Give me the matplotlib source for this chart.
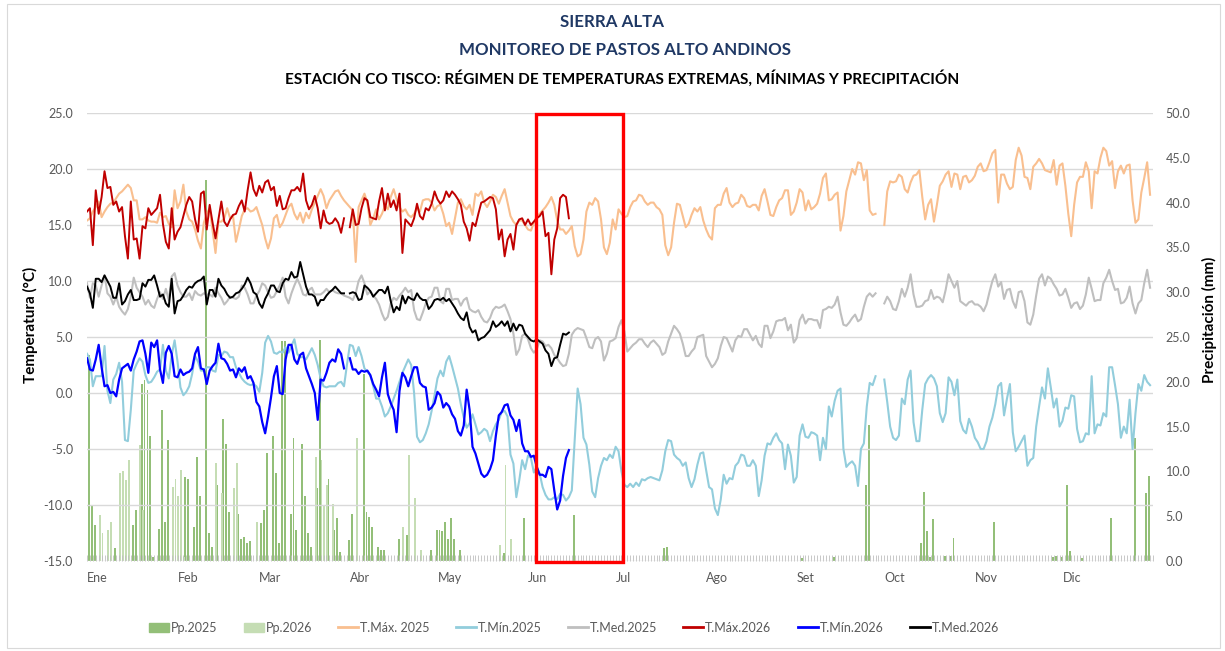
import numpy as np
import matplotlib
matplotlib.use('Agg')
import matplotlib.pyplot as plt
from matplotlib.patches import Rectangle, Patch
from matplotlib.lines import Line2D

plt.rcParams['font.family'] = ['Lato', 'DejaVu Sans']

nan = np.nan

# Meses (inicio de cada mes en días del año)
meses = ['Ene', 'Feb', 'Mar', 'Abr', 'May', 'Jun', 'Jul', 'Ago', 'Set', 'Oct', 'Nov', 'Dic']
inicio_mes = [0, 31, 59, 90, 120, 151, 181, 212, 243, 273, 304, 334]

# T. máxima 2025 (diaria, desde el 1 de enero)
tmax25 = [
    15.4, 15.6, 16.2, 16.6, 17.1, 15.7, 16.2, 16.6, 16.9, 17.0,
    17.4, 17.8, 18.0, 18.3, 18.6, 18.3, 17.2, 17.2, 15.5, 15.5,
    15.7, 15.4, 15.3, 15.3, 15.2, 16.1, 15.7, 15.8, 15.1, 14.8,
    18.1, 16.5, 17.1, 18.6, 16.2, 15.5, 15.3, 14.6, 13.6, 12.9,
    15.2, 16.0, 16.5, 14.5, 12.5, 15.3, 15.3, 15.6, 16.5, 15.6,
    15.8, 13.5, 14.6, 15.8, 16.4, 16.5, 16.2, 16.3, 16.6, 15.8,
    15.0, 13.8, 12.9, 13.8, 15.6, 15.9, 14.8, 15.2, 15.9, 16.6,
    16.9, 16.0, 15.5, 16.1, 15.2, 16.1, 15.6, 16.4, 17.0, 17.6,
    18.2, 17.6, 16.5, 17.2, 17.6, 18.0, 18.1, 17.6, 17.2, 16.9,
    16.6, 16.3, 11.7, 16.6, 17.2, 17.8, 17.0, 15.0, 15.6, 16.4,
    15.5, 16.0, 16.7, 16.4, 17.5, 18.2, 17.3, 16.6, 16.2, 16.4,
    15.9, 15.7, 16.0, 16.5, 16.2, 17.2, 17.3, 17.3, 17.0, 16.3,
    16.7, 16.8, 16.0, 14.9, 15.2, 14.2, 15.6, 17.0, 17.3, 16.7,
    16.4, 16.8, 15.9, 17.8, 17.6, 18.0, 17.0, 16.6, 17.1, 17.7,
    17.5, 16.9, 17.6, 18.2, 17.0, 15.8, 15.3, 15.0, 15.4, 15.4,
    15.0, 14.6, 14.5, 15.2, 15.8, 16.0, 16.3, 16.6, 17.0, 17.5,
    16.8, 15.4, 14.6, 14.6, 14.2, 14.5, 14.9, 13.1, 12.2, 12.4,
    13.7, 16.2, 17.0, 16.8, 17.4, 17.1, 15.5, 13.0, 12.4, 13.4,
    15.5, 14.6, 16.4, 16.0, 15.7, 15.8, 16.6, 17.1, 17.2, 17.7,
    17.6, 17.1, 16.8, 17.0, 17.0, 16.6, 16.4, 15.9, 13.2, 12.3,
    13.0, 15.2, 16.9, 16.8, 15.8, 14.8, 15.1, 15.9, 16.5, 16.2,
    16.6, 15.4, 14.6, 14.0, 13.7, 16.5, 16.8, 16.8, 17.8, 18.3,
    17.0, 16.6, 16.9, 17.0, 17.7, 17.4, 16.7, 16.6, 16.8, 16.8,
    16.3, 17.6, 18.2, 17.1, 15.9, 15.8, 16.6, 17.2, 17.4, 18.1,
    18.1, 15.9, 16.2, 17.0, 18.2, 17.9, 16.3, 17.2, 16.4, 16.6,
    16.9, 17.8, 19.2, 19.6, 17.2, 17.3, 17.7, 17.9, 14.5, 15.8,
    18.0, 19.0, 20.0, 19.5, 20.6, 20.5, 19.0, 19.9, 16.3, 15.9,
    16.0, nan, nan, 15.0, 18.0, 18.9, 18.8, 18.9, 19.5, 19.3,
    18.2, 17.9, 18.8, 19.4, 19.5, 19.9, 17.5, 15.5, 16.8, 17.3,
    15.3, 16.8, 18.5, 18.9, 19.5, 19.8, 18.4, 19.6, 19.5, 18.2,
    19.3, 19.4, 18.8, 19.0, 19.4, 20.2, 20.5, 19.8, 19.9, 20.6,
    21.4, 21.7, 17.0, 19.5, 19.5, 18.7, 18.2, 18.4, 20.8, 21.9,
    21.2, 19.3, 19.2, 18.2, 20.2, 20.5, 20.9, 20.5, 19.9, 19.8,
    19.7, 20.8, 18.6, 20.3, 20.5, 18.5, 16.0, 14.0, 16.8, 18.8,
    19.3, 19.3, 20.6, 19.8, 16.5, 19.8, 19.6, 21.0, 21.9, 21.6,
    20.3, 20.7, 18.3, 19.8, 20.3, 19.6, 20.3, 20.4, 17.2, 15.2,
    15.5, 17.9, 19.2, 20.6, 17.7,
]

# T. mínima 2025
tmin25 = [
    3.5, 3.0, 0.6, 1.5, 1.5, 1.5, 4.2, 0.2, -0.9, 1.2,
    1.7, 2.7, 1.0, -4.2, -4.3, -1.5, 2.0, 2.6, 3.1, 2.8,
    1.6, 0.9, 1.0, 1.4, 1.9, 2.1, 4.3, 2.0, 1.3, 3.4,
    4.7, 2.8, 0.5, -0.2, 0.1, 0.6, 1.7, 3.3, 2.8, 2.0,
    2.0, 2.3, 2.3, 2.0, 1.9, 3.4, 3.3, 3.7, 3.6, 3.2,
    3.2, 2.3, 1.8, 1.3, 1.0, 0.8, 0.7, 0.8, 0.6, 0.1,
    1.8, 4.5, 5.1, 4.6, 3.6, 3.5, 3.7, 3.6, 4.1, 3.6,
    4.2, 4.8, 3.5, 3.2, 3.2, 3.0, 3.5, 4.0, 3.4, 2.5,
    1.3, 0.6, 0.5, 0.6, 0.6, 0.6, 0.9, 1.0, 0.6, 2.5,
    4.3, 4.2, 3.3, 4.1, 3.3, 2.2, 1.9, 1.6, 0.6, -0.5,
    -0.5, -1.2, -2.1, -1.8, -1.2, -0.5, 0.2, 1.0, 1.8, 2.4,
    3.0, 2.5, 0.0, -3.9, -4.4, -4.2, -3.6, -2.8, -1.6, -0.2,
    1.3, 2.0, 1.5, 2.8, 3.3, 2.4, 1.4, 0.4, -1.0, -2.2,
    -3.1, -2.7, -1.9, -2.8, -3.7, -3.5, -3.2, -3.4, -4.3, -3.4,
    -2.8, -2.4, -1.7, -1.6, -2.1, -5.5, -6.3, -9.3, -7.8, -6.0,
    -6.8, -5.6, -5.8, -7.1, -6.6, -7.2, -8.4, -9.1, -9.5, -9.5,
    -9.3, -9.5, -9.0, -9.1, -9.6, -9.3, -8.7, -4.2, 0.4, -1.0,
    -4.0, -4.6, -6.4, -8.8, -9.3, -7.6, -6.5, -5.8, -6.0, -5.5,
    -5.8, -4.8, -5.2, -7.0, -8.2, -8.4, -8.1, -8.4, -8.0, -8.3,
    -7.7, -7.8, -7.6, -7.5, -7.6, -7.7, -7.8, -6.9, -5.2, -4.2,
    -4.3, -5.5, -5.8, -6.0, -6.5, -6.2, -7.6, -8.4, -7.7, -6.4,
    -5.4, -5.3, -6.9, -8.4, -8.6, -10.3, -10.9, -9.5, -7.3, -8.1,
    -7.6, -7.7, -6.5, -6.2, -5.5, -5.6, -6.5, -6.5, -6.0, -6.5,
    -9.2, -7.8, -5.6, -4.5, -4.6, -4.0, -3.6, -4.2, -4.5, -6.8,
    -4.6, -5.6, -8.0, -7.5, -3.8, -2.8, -3.9, -4.0, -3.5, -3.6,
    -3.8, -6.0, -4.0, -5.0, -1.2, -2.1, -0.7, 0.2, 0.4, -5.0,
    -6.6, -6.3, -6.1, -6.5, -8.3, -5.0, -4.5, -1.2, 0.9, 0.7,
    1.5, nan, nan, 1.2, -0.8, -3.0, -4.0, -4.2, -3.8, -0.5,
    -1.0, 1.2, 2.0, -2.6, -4.3, -4.3, -1.5, 0.8, 1.3, 1.6,
    1.3, 0.6, -1.8, -2.6, -1.8, 1.4, 1.0, -0.2, 1.2, -2.5,
    -3.3, -3.6, -2.3, -3.0, -4.0, -4.4, -5.0, -5.0, -4.3, -3.0,
    -2.2, -1.0, 0.6, 0.9, -2.0, -0.5, 0.8, -3.5, -5.2, -4.8,
    -4.3, -3.8, -6.5, -6.0, -5.8, -3.0, -1.2, 0.5, -0.5, 2.2,
    0.5, -1.3, -0.5, -3.0, -2.5, -1.3, -1.4, -0.2, -0.3, -3.2,
    -4.4, -4.3, -3.6, -3.7, 1.5, -3.6, -2.8, -2.9, -1.8, -2.1,
    2.3, 2.3, 0.7, -1.0, -4.0, -3.0, -3.6, -0.6, -5.0, -1.8,
    0.8, 0.2, 1.6, 1.0, 0.7,
]

# T. media 2025
tmed25 = [
    9.8, 8.5, 9.8, 9.6, 8.6, 9.6, 10.5, 8.9, 8.6, 7.9,
    8.6, 7.7, 7.3, 7.0, 7.5, 8.6, 10.3, 9.4, 9.0, 8.6,
    7.9, 8.3, 7.8, 7.6, 8.4, 9.0, 8.4, 9.3, 8.3, 10.4,
    10.7, 9.6, 9.0, 8.6, 8.6, 8.9, 8.3, 9.1, 8.8, 8.7,
    8.9, 8.8, 8.8, 8.6, 9.4, 8.9, 8.5, 7.9, 8.2, 8.6,
    8.5, 8.4, 8.6, 9.6, 9.4, 8.8, 8.0, 8.0, 8.7, 9.1,
    9.8, 9.6, 9.0, 8.5, 8.6, 9.1, 9.6, 10.3, 8.6, 8.0,
    8.9, 9.6, 10.2, 9.6, 8.8, 8.7, 9.2, 9.4, 8.8, 8.8,
    8.8, 9.0, 9.3, 9.0, 9.2, 9.0, 8.9, 8.9, 8.7, 8.6,
    8.5, 8.3, 8.9, 10.0, 10.5, 9.8, 8.8, 9.1, 8.7, 8.4,
    7.9, 7.1, 6.5, 6.8, 8.0, 8.5, 8.3, 8.7, 9.0, 9.4,
    9.0, 9.2, 7.4, 6.6, 6.5, 7.2, 8.0, 8.5, 8.6, 9.4,
    9.4, 8.2, 8.0, 9.3, 9.3, 8.3, 8.4, 8.4, 7.8, 8.3,
    8.5, 7.5, 7.3, 7.2, 7.4, 6.8, 6.4, 6.3, 6.7, 7.4,
    7.7, 7.6, 7.7, 7.9, 7.3, 6.6, 5.3, 3.4, 3.9, 5.1,
    5.3, 4.8, 4.0, 3.6, 3.9, 4.7, 4.6, 4.2, 4.3, 4.0,
    3.4, 3.1, 2.7, 2.4, 2.5, 3.5, 5.2, 5.6, 5.8, 5.7,
    5.6, 4.9, 4.1, 4.0, 4.8, 5.0, 4.6, 2.9, 3.5, 4.6,
    4.7, 4.9, 5.9, 6.5, 5.5, 3.7, 4.0, 4.3, 4.5, 4.8,
    4.8, 4.4, 4.1, 4.5, 4.7, 4.4, 4.1, 3.4, 3.6, 4.6,
    5.3, 6.0, 5.7, 5.3, 4.4, 3.3, 3.3, 3.7, 4.0, 5.0,
    5.1, 5.2, 3.3, 2.8, 2.3, 2.6, 3.1, 4.2, 5.0, 4.9,
    4.3, 3.7, 4.7, 5.1, 5.0, 5.7, 5.7, 5.2, 4.7, 5.1,
    4.4, 4.1, 6.0, 6.0, 4.9, 5.5, 6.4, 6.5, 6.5, 6.7,
    5.6, 6.1, 4.5, 4.9, 6.5, 7.0, 6.2, 6.6, 6.6, 6.5,
    6.5, 5.8, 7.4, 7.5, 7.7, 7.6, 7.9, 8.6, 7.2, 6.1,
    6.0, 6.3, 6.7, 7.0, 6.4, 6.6, 7.7, 8.6, 8.9, 8.6,
    8.9, nan, nan, 8.0, 8.6, 8.2, 7.5, 7.4, 8.2, 9.3,
    8.6, 9.4, 10.6, 8.8, 7.7, 7.7, 7.8, 8.2, 8.3, 9.2,
    8.4, 8.6, 8.5, 8.1, 9.2, 10.6, 10.0, 9.4, 10.0, 8.2,
    8.0, 7.8, 8.1, 8.2, 7.9, 7.9, 7.7, 7.3, 7.9, 9.0,
    10.0, 10.6, 9.5, 9.9, 8.4, 9.2, 9.3, 8.2, 7.6, 9.0,
    9.1, 8.2, 6.3, 6.1, 7.0, 8.7, 10.2, 10.6, 9.6, 10.4,
    10.2, 9.7, 9.3, 8.7, 8.8, 9.3, 8.5, 7.6, 8.0, 8.1,
    7.5, 7.8, 8.8, 10.3, 9.3, 8.2, 8.3, 8.3, 9.8, 10.3,
    11.0, 10.0, 9.2, 9.3, 8.0, 8.1, 8.5, 9.5, 8.0, 7.1,
    8.0, 8.3, 9.8, 11.0, 9.4,
]

# T. máxima 2026 (hasta el 15 de junio)
tmax26 = [
    16.2, 16.5, 13.2, 18.1, 16.0, 17.5, 19.8, 18.3, 18.4, 16.8,
    17.1, 16.2, 16.6, 14.0, 12.0, 17.1, 13.7, 13.8, 12.0, 14.9,
    14.7, 16.5, 15.9, 16.2, 16.5, 17.7, 15.1, 13.5, 12.9, 16.5,
    13.7, 14.4, 14.8, 15.8, 16.8, 17.5, 17.1, 15.5, 14.4, 17.8,
    18.0, 14.6, 16.8, 15.2, 13.8, 15.5, 17.1, 15.3, 14.9, 15.5,
    15.9, 16.0, 16.7, 17.2, 16.2, 18.1, 19.7, 18.2, 17.6, 18.5,
    17.9, 18.8, 19.0, 18.1, 18.4, 16.7, 17.6, 16.4, 16.5, 17.4,
    18.1, 18.1, 18.4, 18.0, 19.6, 17.2, 16.4, 16.8, 17.6, 16.5,
    14.7, 16.3, 15.3, 15.1, 15.2, 15.6, 15.2, 14.3, 15.6, nan,
    14.8, 16.4, 15.0, 15.1, 16.5, 17.4, 17.2, 15.7, 15.6, 15.5,
    17.1, 18.3, 16.3, 17.8, 16.6, 17.2, 16.3, 17.8, 12.5, 15.5,
    15.2, 14.9, 15.6, 16.9, 15.8, 15.5, 16.5, 16.3, 16.9, 18.0,
    17.3, 16.9, 17.2, 18.0, 17.5, 18.0, 17.7, 17.3, 16.8, 15.3,
    14.7, 13.6, 15.2, 14.9, 16.0, 17.0, 17.1, 17.3, 17.5, 17.4,
    16.4, 13.7, 14.6, 12.2, 13.7, 14.2, 12.8, 15.0, 15.5, 15.6,
    15.0, 15.5, 15.0, 15.3, 15.6, 15.8, 16.2, 14.0, 14.3, 10.6,
    13.7, 14.7, 17.4, 17.7, 17.5, 15.6,
]

# T. mínima 2026
tmin26 = [
    3.1, 2.1, 2.0, 3.0, 4.3, 2.3, 0.6, 0.7, 0.0, 0.1,
    -0.3, 1.2, 2.2, 2.4, 2.6, 2.0, 3.0, 3.7, 4.6, 4.7,
    3.5, 1.8, 4.5, 4.1, 4.7, 2.1, 0.9, 3.6, 4.2, 3.5,
    1.5, 1.4, 2.1, 1.6, 1.8, 1.9, 2.2, 3.5, 4.1, 2.2,
    2.1, 0.8, 2.0, 2.4, 2.7, 4.4, 3.1, 3.0, 2.6, 2.0,
    2.1, 1.4, 2.2, 1.9, 2.3, 1.3, 1.5, 0.9, -0.8, -1.2,
    -2.6, -3.6, -2.1, -0.4, 1.5, 2.4, 0.0, -0.1, 3.0, 4.3,
    4.3, 3.0, 2.6, 3.4, 3.6, 2.2, 1.5, 0.8, 0.0, -2.4,
    1.2, 1.1, 1.8, 2.7, 3.0, 2.8, 3.9, 3.5, 2.2, nan,
    3.1, 2.1, 2.1, 1.7, 2.0, 1.9, 2.0, 1.6, 0.8, 0.3,
    -0.3, 1.4, 2.7, -0.1, -0.9, -1.5, -3.5, 0.2, 1.8, 1.4,
    0.6, 1.5, 2.3, 2.3, 0.9, 0.6, 0.5, -1.5, -1.3, -0.9,
    0.1, -0.2, -1.3, -0.9, -1.2, -1.9, -2.3, -3.4, -3.8, -2.9,
    0.3, -1.5, -4.8, -5.4, -6.3, -7.2, -7.5, -7.3, -6.8, -6.0,
    -3.8, -2.0, -1.7, -1.1, -1.0, -2.0, -2.4, -3.4, -2.4, -4.5,
    -5.2, -5.2, -5.7, -5.6, -6.6, -7.3, -7.3, -7.5, -6.6, -6.8,
    -8.7, -10.4, -9.6, -7.4, -5.8, -5.1,
]

# T. media 2026
tmed26 = [
    9.5, 8.9, 7.6, 10.2, 10.2, 9.9, 10.5, 10.0, 9.5, 8.5,
    8.5, 9.8, 7.9, 8.2, 8.8, 9.2, 8.3, 8.3, 8.4, 9.8,
    9.5, 10.1, 10.1, 10.5, 9.6, 8.6, 8.8, 8.0, 7.7, 10.2,
    7.1, 8.2, 8.3, 8.7, 9.2, 9.5, 9.4, 9.8, 10.0, 10.1,
    10.4, 7.9, 9.2, 9.2, 8.6, 10.2, 9.6, 9.3, 8.8, 8.5,
    8.6, 8.9, 9.0, 9.3, 9.7, 10.3, 9.8, 9.0, 8.8, 8.0,
    7.6, 8.4, 8.9, 9.6, 9.6, 9.1, 9.0, 9.8, 10.2, 10.1,
    10.8, 10.3, 10.4, 11.7, 10.6, 9.5, 8.8, 8.8, 8.6, 7.8,
    8.3, 8.3, 8.7, 9.0, 9.2, 9.5, 9.2, 8.9, 8.9, nan,
    8.9, 9.0, 8.9, 8.3, 8.4, 9.6, 9.4, 9.1, 8.6, 8.9,
    9.2, 9.2, 8.9, 9.5, 8.2, 7.2, 7.7, 7.4, 8.7, 8.0,
    8.6, 8.4, 8.3, 8.9, 8.5, 8.3, 8.3, 7.5, 7.8, 8.3,
    8.4, 8.3, 8.5, 8.2, 8.4, 8.0, 7.6, 7.1, 6.7, 6.5,
    7.2, 5.9, 5.4, 5.6, 4.7, 4.9, 5.0, 5.3, 5.6, 6.4,
    5.9, 6.1, 6.4, 6.0, 6.4, 5.5, 6.2, 5.6, 6.1, 6.0,
    5.3, 5.0, 4.7, 4.6, 4.8, 4.6, 4.4, 3.8, 3.5, 2.4,
    3.1, 3.2, 4.3, 5.3, 5.2, 5.4,
]

# Precipitación (mm): día del año y lámina
pp25_dias = [0, 1, 2, 3, 10, 16, 17, 19, 20, 21, 22, 23, 25, 26, 27, 28, 34, 35, 37, 38,
             39, 41, 42, 43, 45, 47, 48, 49, 52, 53, 54, 55, 56, 60, 61, 62, 64, 65, 66, 67,
             68, 70, 71, 72, 74, 75, 76, 77, 79, 80, 83, 85, 86, 87, 90, 91, 95, 96, 97, 98,
             100, 101, 102, 107, 110, 118, 120, 121, 122, 123, 124, 125, 126, 128, 143, 150,
             167, 198, 199, 245, 256, 267, 268, 286, 287, 288, 289, 290, 294, 296, 297, 311,
             331, 332, 334, 336, 337, 341, 351, 359, 363, 364]
pp25 = [2.7, 23.0, 6.3, 4.0, 1.4, 4.0, 5.7, 19.8, 20.2, 19.1, 13.9, 0.5, 3.6, 16.9, 4.4, 13.5, 9.4, 9.2, 3.8, 11.6,
        7.2, 42.5, 3.1, 1.6, 8.5, 15.9, 13.1, 5.5, 5.3, 2.5, 2.7, 2.0, 2.2, 4.2, 5.7, 12.0, 13.9, 9.8, 2.0, 24.5,
        24.5, 5.3, 13.7, 3.5, 13.1, 7.2, 3.1, 1.6, 8.1, 24.7, 9.2, 3.5, 4.8, 1.0, 2.3, 5.3, 20.9, 5.5, 4.9, 3.8,
        1.6, 1.2, 1.2, 2.5, 2.9, 1.2, 3.5, 3.5, 3.3, 4.4, 2.5, 4.8, 2.5, 1.2, 0.9, 4.8,
        5.1, 1.4, 1.6, 0.3, 0.5, 8.5, 15.2, 2.0, 7.7, 3.3, 0.5, 4.7, 0.6, 0.6, 2.6, 4.4,
        0.4, 0.6, 0.5, 8.5, 1.1, 0.3, 4.8, 13.7, 7.6, 9.5]

pp26_dias = [4, 5, 7, 8, 11, 12, 13, 14, 18, 19, 29, 30, 31, 32, 33, 44, 46, 50, 51, 58,
             78, 80, 81, 82, 84, 92, 108, 110, 112, 114, 141, 143, 145]
pp26 = [5.1, 3.1, 3.5, 4.4, 9.8, 10.0, 9.0, 11.3, 12.9, 5.7, 8.3, 9.2, 7.2, 10.2, 0.5, 10.9, 7.6, 8.1, 10.9, 4.4,
        11.6, 11.3, 6.1, 8.5, 6.4, 13.7, 3.8, 11.8, 7.0, 1.2, 1.8, 10.7, 2.5]

c_max25, c_min25, c_med25 = '#F9BF8F', '#92CDDC', '#BFBFBF'
c_max26, c_min26, c_med26 = '#C00000', '#0000FF', '#000000'
c_pp25, c_pp26 = '#93BF78', '#C5DDB4'
gris = '#595959'

W, H = 1225, 651
fig = plt.figure(figsize=(W / 100, H / 100), dpi=100)
ax = fig.add_axes([87 / W, 1 - 561 / H, (1153 - 87) / W, (561 - 113) / H])
ax2 = ax.twinx()

# barras de precipitación (eje secundario)
ax2.bar(np.array(pp25_dias) - 0.3, pp25, width=0.65, color=c_pp25, linewidth=0)
ax2.bar(np.array(pp26_dias) + 0.3, pp26, width=0.65, color=c_pp26, linewidth=0)

d25 = np.arange(len(tmax25))
d26 = np.arange(len(tmax26))
ax.plot(d25, tmax25, color=c_max25, lw=1.5)
ax.plot(d25, tmin25, color=c_min25, lw=1.5)
ax.plot(d25, tmed25, color=c_med25, lw=1.5)
ax.plot(d26, tmax26, color=c_max26, lw=1.4)
ax.plot(d26, tmin26, color=c_min26, lw=1.6)
ax.plot(d26, tmed26, color=c_med26, lw=1.4)

ax.set_zorder(ax2.get_zorder() + 1)
ax.patch.set_visible(False)

ax.set_xlim(0, 365)
ax.set_ylim(-15, 25)
ax2.set_ylim(0, 50)
ax.set_yticks(np.arange(-15, 26, 5))
ax2.set_yticks(np.arange(0, 51, 5))
ax.set_yticklabels([f'{v:.1f}' for v in np.arange(-15, 26, 5)])
ax2.set_yticklabels([f'{v:.1f}' for v in np.arange(0, 51, 5)])
ax.yaxis.grid(True, color='#D9D9D9', lw=1)
ax.set_axisbelow(True)

ax.set_xticks(inicio_mes)
ax.set_xticklabels(meses, ha='left')
ax.set_xticks(np.arange(0, 366), minor=True)
ax.tick_params(axis='x', which='both', direction='in', length=4, width=0.6, color='#BFBFBF',
               labelsize=9, labelcolor=gris, pad=8)
ax.tick_params(axis='y', length=0, labelsize=9, labelcolor=gris, pad=10)
ax2.tick_params(axis='y', length=0, labelsize=9, labelcolor=gris, pad=9)
for a in (ax, ax2):
    for s in a.spines.values():
        s.set_visible(False)

ax.set_ylabel('Temperatura (°C)', fontsize=11, fontweight='bold')
ax.yaxis.set_label_coords(-(87 - 38) / 1066, 0.527)
ax2.set_ylabel('Precipitación (mm)', fontsize=11, fontweight='bold', rotation=90)
ax2.yaxis.set_label_coords((1202 - 87) / 1066, 0.538)

# recuadro rojo (junio)
ax.add_patch(Rectangle((153.8, -15.05), 29.8, 40.0, fill=False, edgecolor='#FF0000', lw=2.4,
                       zorder=10, clip_on=False))

# títulos
fig.text(612 / W, 1 - 22 / H, 'SIERRA ALTA', ha='center', va='center', fontsize=12.2,
         fontweight='bold', color='#1F3864')
fig.text(625 / W, 1 - 50 / H, 'MONITOREO DE PASTOS ALTO ANDINOS', ha='center', va='center',
         fontsize=12.2, fontweight='bold', color='#1F3864')
fig.text(622 / W, 1 - 78 / H, 'ESTACIÓN CO TISCO: RÉGIMEN DE TEMPERATURAS EXTREMAS, MÍNIMAS Y PRECIPITACIÓN',
         ha='center', va='center', fontsize=11.1, fontweight='bold', color='black')

handles = [Patch(color=c_pp25), Patch(color=c_pp26),
           Line2D([], [], color=c_max25, lw=2), Line2D([], [], color=c_min25, lw=2),
           Line2D([], [], color=c_med25, lw=2), Line2D([], [], color=c_max26, lw=2),
           Line2D([], [], color=c_min26, lw=2), Line2D([], [], color=c_med26, lw=2)]
labels = ['Pp.2025', 'Pp.2026', 'T.Máx. 2025', 'T.Mín.2025', 'T.Med.2025',
          'T.Máx.2026', 'T.Mín.2026', 'T.Med.2026']
fig.legend(handles, labels, loc='center', bbox_to_anchor=(574 / W, 1 - 628 / H), ncol=8,
           frameon=False, fontsize=9, labelcolor=gris, handlelength=1.6, handleheight=0.8,
           handletextpad=0.15, columnspacing=2.1)

# borde del gráfico
fig.add_artist(Rectangle((7 / W, 3 / H), (W - 12) / W, (H - 7) / H, transform=fig.transFigure,
                         fill=False, edgecolor='#D9D9D9', lw=0.8))

fig.savefig('out.png', dpi=100)
